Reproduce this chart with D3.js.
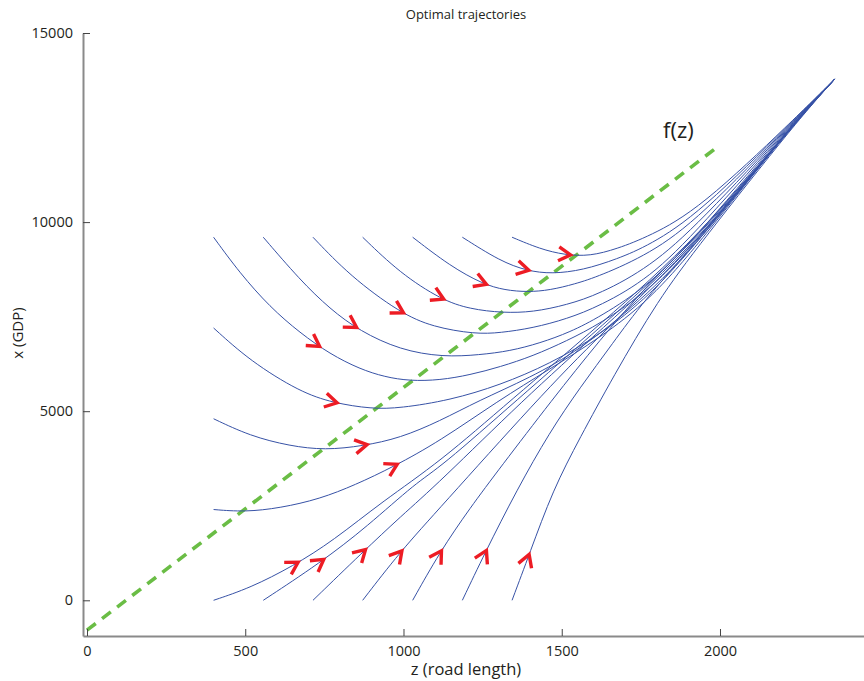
<!DOCTYPE html>
<html>
<head>
<meta charset="utf-8">
<script src="https://cdn.jsdelivr.net/npm/d3@7"></script>
<style>
  body { margin: 0; background: #fff; }
  svg { display: block; }
  text { font-family: "Open Sans", sans-serif; fill: #231f20; }
</style>
</head>
<body>
<svg id="chart" width="864" height="681"></svg>
<script>
// Axis ticks
const zTicks = [0, 500, 1000, 1500, 2000];
const xTicks = [0, 5000, 10000, 15000];

// f(z) reference line
const fLineZ = [0, 2000];
const fLineX = [-790, 12040];

// Trajectories starting on the top row (x0 = 9600)
const topRowZ = [
  [400, 483, 578, 673, 768, 862, 941, 1020, 1115, 1210, 1305, 1409, 1516, 1620, 1778, 1936, 2238, 2363],
  [557, 673, 768, 862, 989, 1125, 1241, 1336, 1431, 1526, 1620, 1778, 1936, 2237, 2363],
  [714, 831, 989, 1093, 1226, 1305, 1409, 1516, 1620, 1778, 1936, 2236, 2363],
  [871, 989, 1121, 1210, 1314, 1409, 1516, 1620, 1778, 1936, 2235, 2363],
  [1029, 1147, 1251, 1320, 1393, 1462, 1541, 1620, 1778, 1936, 2234, 2363],
  [1186, 1305, 1390, 1469, 1567, 1674, 1778, 1936, 2233, 2363],
  [1343, 1431, 1510, 1589, 1674, 1778, 1936, 2232, 2363]
];
const topRowX = [
  [9600, 8650, 7755, 7070, 6510, 6115, 5905, 5800, 5820, 5960, 6170, 6460, 6860, 7305, 8200, 9580, 12700, 13784],
  [9600, 8470, 7700, 7120, 6620, 6430, 6490, 6590, 6800, 7090, 7490, 8340, 9710, 12700, 13784],
  [9600, 8575, 7600, 7225, 7040, 7070, 7200, 7440, 7780, 8520, 9840, 12700, 13784],
  [9600, 8650, 7940, 7700, 7600, 7620, 7810, 8100, 8810, 9980, 12700, 13784],
  [9600, 8840, 8360, 8200, 8150, 8200, 8360, 8575, 9160, 10110, 12700, 13784],
  [9600, 8970, 8710, 8630, 8730, 9020, 9390, 10240, 12700, 13784],
  [9600, 9290, 9130, 9100, 9290, 9630, 10350, 12700, 13784]
];
const topRowArrowZ = [735, 852, 1000, 1127, 1262, 1396, 1528];

// Trajectories starting on the left column (z0 = 400)
const leftColZ = [
  [400, 515, 673, 777, 900, 989, 1147, 1305, 1462, 1620, 1778, 1936, 2239, 2363],
  [400, 515, 641, 752, 872, 989, 1115, 1235, 1399, 1557, 1746, 1936, 2240, 2363],
  [400, 499, 610, 736, 847, 967, 1115, 1298, 1462, 1620, 1778, 1936, 2240, 2363]
];
const leftColX = [
  [7200, 6330, 5510, 5220, 5060, 5080, 5290, 5690, 6250, 7015, 8045, 9530, 12700, 13784],
  [4800, 4345, 4080, 3970, 4080, 4290, 4740, 5270, 5880, 6620, 7890, 9475, 12700, 13784],
  [2400, 2335, 2440, 2680, 3050, 3525, 4210, 5270, 6115, 6935, 7940, 9450, 12700, 13784]
];
const leftColArrowZ = [790, 885, 980];

// Trajectories starting on the bottom row (x0 = 0)
const bottomRowZ = [
  [400, 515, 651, 777, 935, 1115, 1336, 1620, 1936, 2241, 2363],
  [557, 736, 884, 1042, 1115, 1358, 1620, 1936, 2242, 2363],
  [714, 872, 989, 1115, 1377, 1620, 1936, 2243, 2363],
  [871, 989, 1115, 1421, 1620, 1936, 2243, 2363],
  [1029, 1115, 1210, 1305, 1469, 1620, 1778, 1936, 2244, 2363],
  [1186, 1257, 1358, 1462, 1557, 1662, 1756, 1936, 2245, 2363],
  [1343, 1399, 1472, 1557, 1662, 1804, 1936, 2246, 2363]
];
const bottomRowX = [
  [0, 325, 905, 1570, 2625, 3660, 5270, 7280, 9630, 12700, 13784],
  [0, 985, 1940, 3130, 3500, 5295, 7200, 9580, 12700, 13784],
  [0, 1280, 2200, 3130, 5295, 7120, 9530, 12700, 13784],
  [0, 1280, 2440, 5295, 7015, 9500, 12700, 13784],
  [0, 1280, 2440, 3500, 5295, 6880, 8415, 9685, 12700, 13784],
  [0, 1250, 2915, 4450, 5615, 6805, 7885, 9580, 12700, 13784],
  [0, 1250, 2915, 4290, 5905, 7940, 9420, 12700, 13784]
];
const bottomRowArrowZ = [667, 748, 880, 995, 1120, 1262, 1397];

// ---------------------------------------------------------------
const svg = d3.select("#chart");

const zScale = d3.scaleLinear().domain([-12.6, 2455]).range([83, 864]);
const xScale = d3.scaleLinear().domain([-944, 15000]).range([636, 33]);

const lineGen = d3.line()
  .x(d => zScale(d[0]))
  .y(d => xScale(d[1]))
  .curve(d3.curveBasis);

// Trajectory list assembled from the row/column arrays
const paths = [];
function addGroup(zs, xs, arrows) {
  zs.forEach((zArr, i) => {
    paths.push({ pts: zArr.map((z, k) => [z, xs[i][k]]), arrowZ: arrows[i] });
  });
}
addGroup(topRowZ, topRowX, topRowArrowZ);
addGroup(leftColZ, leftColX, leftColArrowZ);
addGroup(bottomRowZ, bottomRowX, bottomRowArrowZ);

// f(z) dashed line (drawn under the trajectories)
svg.append("path")
  .attr("d", d3.line().x(d => zScale(d[0])).y(d => xScale(d[1]))(fLineZ.map((z, i) => [z, fLineX[i]])))
  .attr("fill", "none")
  .attr("stroke", "#6abd45")
  .attr("stroke-width", 3.6)
  .attr("stroke-dasharray", "11,8");

const trajG = svg.append("g");
const nodes = paths.map(p =>
  trajG.append("path")
    .attr("d", lineGen(p.pts))
    .attr("fill", "none")
    .attr("stroke", "#3752a6")
    .attr("stroke-width", 1)
    .node()
);

// Arrowheads: find the point on each path whose horizontal position matches arrowZ
const arrowG = svg.append("g");
paths.forEach((p, i) => {
  const node = nodes[i];
  const total = node.getTotalLength();
  const target = zScale(p.arrowZ);
  let lo = 0, hi = total;
  for (let k = 0; k < 40; k++) {
    const mid = (lo + hi) / 2;
    if (node.getPointAtLength(mid).x < target) lo = mid; else hi = mid;
  }
  const L = (lo + hi) / 2;
  const a = node.getPointAtLength(Math.max(0, L - 3));
  const b = node.getPointAtLength(Math.min(total, L + 3));
  const tip = node.getPointAtLength(L);
  const ang = Math.atan2(b.y - a.y, b.x - a.x) * 180 / Math.PI;
  arrowG.append("path")
    .attr("d", "M-12,-7L0,0L-12,7")
    .attr("transform", `translate(${tip.x},${tip.y}) rotate(${ang})`)
    .attr("fill", "none")
    .attr("stroke", "#ed1c24")
    .attr("stroke-width", 3.4)
    .attr("stroke-linejoin", "miter");
});

// Axes (ticks pointing inward)
const xAxis = svg.append("g")
  .attr("transform", "translate(0,636)")
  .call(d3.axisBottom(zScale).tickValues(zTicks).tickFormat(d3.format("d"))
    .tickSizeInner(-7).tickSizeOuter(0).tickPadding(10));
const yAxis = svg.append("g")
  .attr("transform", "translate(83,0)")
  .call(d3.axisLeft(xScale).tickValues(xTicks).tickFormat(d3.format("d"))
    .tickSizeInner(-7).tickSizeOuter(0).tickPadding(10));

[xAxis, yAxis].forEach(g => {
  g.select(".domain").attr("stroke", "#8a8a8a").attr("stroke-width", 2);
  g.selectAll(".tick line").attr("stroke", "#444").attr("stroke-width", 1);
  g.selectAll(".tick text").style("font-size", "14.5px").attr("fill", "#231f20");
});

// Titles and labels
svg.append("text")
  .attr("x", 466).attr("y", 19)
  .attr("text-anchor", "middle")
  .style("font-size", "13px")
  .text("Optimal trajectories");

svg.append("text")
  .attr("x", 466).attr("y", 675)
  .attr("text-anchor", "middle")
  .style("font-size", "16.5px")
  .text("z (road length)");

svg.append("text")
  .attr("transform", "translate(23,333) rotate(-90)")
  .attr("text-anchor", "middle")
  .style("font-size", "15px")
  .text("x (GDP)");

svg.append("text")
  .attr("x", 663).attr("y", 138)
  .style("font-size", "22px")
  .text("f(z)");
</script>
</body>
</html>
